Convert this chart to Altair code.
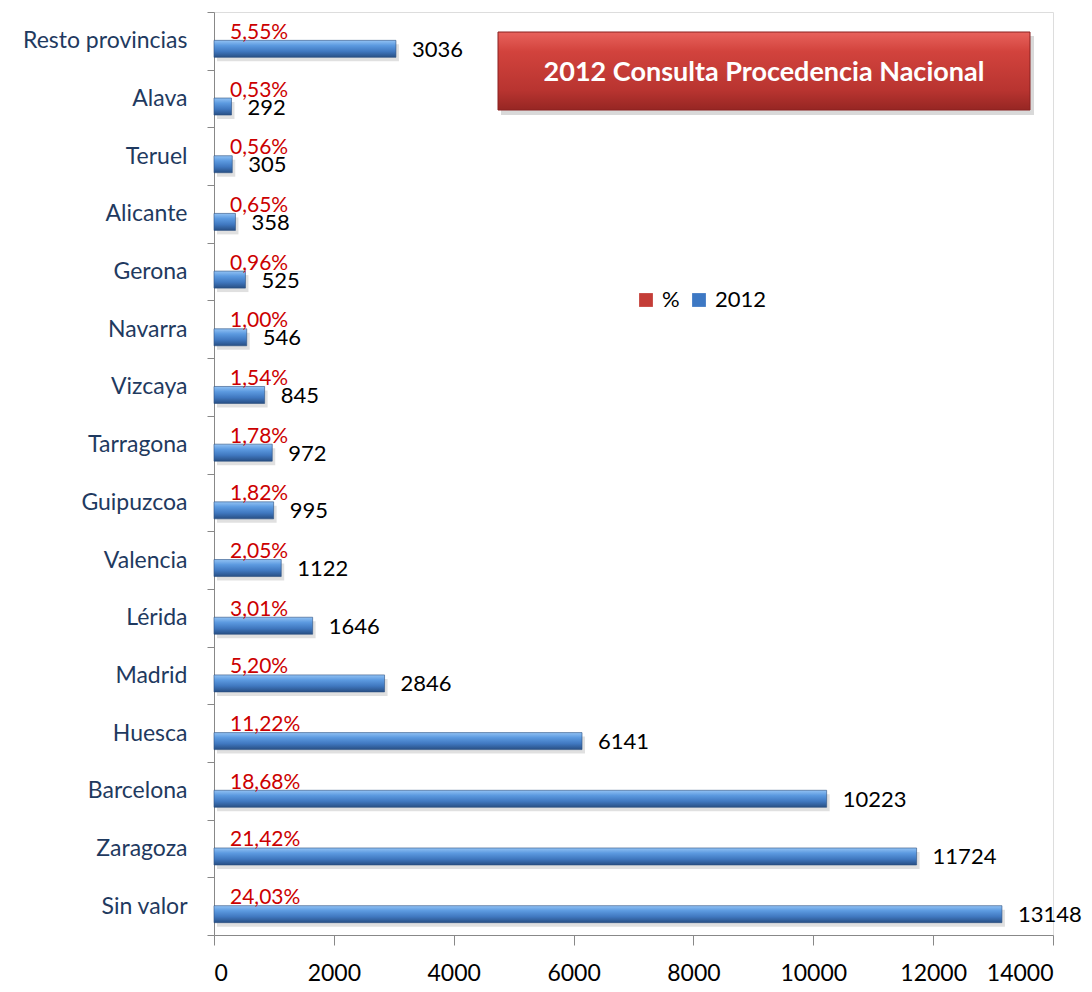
import altair as alt
import pandas as pd

categories = ["Resto provincias", "Alava", "Teruel", "Alicante", "Gerona", "Navarra",
              "Vizcaya", "Tarragona", "Guipuzcoa", "Valencia", "Lérida", "Madrid",
              "Huesca", "Barcelona", "Zaragoza", "Sin valor"]
values_2012 = [3036, 292, 305, 358, 525, 546, 845, 972, 995, 1122, 1646, 2846,
               6141, 10223, 11724, 13148]
pct_labels = ["5,55%", "0,53%", "0,56%", "0,65%", "0,96%", "1,00%", "1,54%", "1,78%",
              "1,82%", "2,05%", "3,01%", "5,20%", "11,22%", "18,68%", "21,42%", "24,03%"]
legend_series = ["%", "2012"]
legend_colors = ["#c43d37", "#3d78c4"]
title_text = ["2012 Consulta Procedencia Nacional"]
x_ticks = [0, 2000, 4000, 6000, 8000, 10000, 12000, 14000]

df = pd.DataFrame({"cat": categories, "v": values_2012, "pct": pct_labels, "zero": 0})
legend_df = pd.DataFrame({"series": legend_series})
title_df = pd.DataFrame({"t": title_text})

FONT = "Lato"
W, H = 839, 923

y_enc = alt.Y("cat:N", sort=categories,
              scale=alt.Scale(paddingInner=0, paddingOuter=0),
              axis=alt.Axis(title=None, tickBand="extent", tickSize=7, tickColor="#888888",
                            domainColor="#888888", labelFontSize=23, labelColor="#1f3a60",
                            labelFont=FONT, labelPadding=20, labelLimit=300, grid=False))
x_axis = alt.Axis(title=None, values=x_ticks, grid=False, tickSize=10,
                  tickColor="#888888", domainColor="#888888", labelFontSize=23,
                  labelColor="#000000", labelFont=FONT, labelPadding=17, format="d")
x_scale = alt.Scale(domain=[0, 14000], nice=False)
x_enc = alt.X("v:Q", scale=x_scale, axis=x_axis)

bar_grad = alt.LinearGradient(gradient="linear", x1=0, y1=0, x2=0, y2=1, stops=[
    alt.GradientStop(offset=0, color="#92c2f4"),
    alt.GradientStop(offset=0.3, color="#5c9ae0"),
    alt.GradientStop(offset=0.65, color="#4078c0"),
    alt.GradientStop(offset=1, color="#284f84"),
])

shadow = alt.Chart(df).mark_bar(size=17, yOffset=12, xOffset=3, color="#000000",
                                opacity=0.12).encode(y=y_enc, x=x_enc)
bars = alt.Chart(df).mark_bar(size=17, yOffset=8, color=bar_grad,
                              stroke="#2a4f80", strokeWidth=0.6).encode(y=y_enc, x=x_enc)
pct = alt.Chart(df).mark_text(align="left", baseline="middle", dx=16, dy=-8,
                              fontSize=21, font=FONT, color="#cc0000").encode(
    y=y_enc, x=alt.X("zero:Q", scale=x_scale, axis=x_axis), text="pct:N")
vals = alt.Chart(df).mark_text(align="left", baseline="middle", dx=16, dy=9,
                               fontSize=22, font=FONT, color="#000000").encode(
    y=y_enc, x=x_enc, text="v:Q")

box_grad = alt.LinearGradient(gradient="linear", x1=0, y1=0, x2=0, y2=1, stops=[
    alt.GradientStop(offset=0, color="#e8625c"),
    alt.GradientStop(offset=0.25, color="#d2433d"),
    alt.GradientStop(offset=0.75, color="#b83430"),
    alt.GradientStop(offset=1, color="#962623"),
])
box_shadow = alt.Chart(title_df).mark_rect(color="#000000", opacity=0.15).encode(
    x=alt.value(287), x2=alt.value(820), y=alt.value(24), y2=alt.value(103))
box = alt.Chart(title_df).mark_rect(color=box_grad, stroke="#8a2020", strokeWidth=1).encode(
    x=alt.value(284), x2=alt.value(816), y=alt.value(20), y2=alt.value(98))
box_text = alt.Chart(title_df).mark_text(fontSize=27, fontWeight="bold", font=FONT,
                                         color="#ffffff", baseline="middle").encode(
    x=alt.value(550), y=alt.value(61), text="t:N")

legend_layer = alt.Chart(legend_df).mark_square(opacity=0, size=0).encode(
    color=alt.Color("series:N", sort=legend_series,
                    scale=alt.Scale(domain=legend_series, range=legend_colors),
                    legend=alt.Legend(title=None, orient="none", direction="horizontal",
                                      legendX=421, legendY=277, symbolType="square",
                                      symbolSize=190, symbolOpacity=1, symbolStrokeWidth=0,
                                      labelFontSize=22, labelFont=FONT, labelColor="#000000",
                                      columnPadding=8, symbolOffset=0, labelOffset=5)),
    x=alt.value(0), y=alt.value(0))

chart = alt.layer(shadow, bars, pct, vals, box_shadow, box, box_text, legend_layer).properties(
    width=W, height=H,
    autosize=alt.AutoSizeParams(type="none"),
    padding={"left": 206, "top": 4, "right": 30, "bottom": 50},
).configure_view(stroke="transparent", strokeOpacity=0, strokeWidth=0).configure_axis(
    grid=False, gridOpacity=0).configure(background="#ffffff")

chart.save("out.html", embed_options={"renderer": "svg", "actions": False})
